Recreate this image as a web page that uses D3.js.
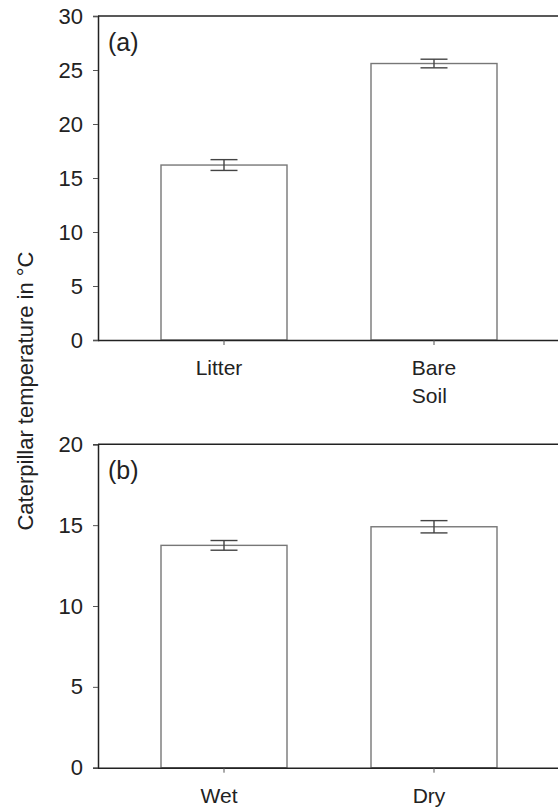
<!DOCTYPE html>
<html>
<head>
<meta charset="utf-8">
<script src="https://cdn.jsdelivr.net/npm/d3@7"></script>
<style>
  html, body { margin: 0; padding: 0; background: #fff; }
  svg { display: block; }
  text { font-family: "Liberation Sans", Arial, sans-serif; fill: #222; }
</style>
</head>
<body>
<svg id="chart" width="558" height="807"></svg>
<script>
// ---- data ----
const categoriesA = ["Litter", "Bare Soil"];
const labelsA = [["Litter"], ["Bare", "Soil"]];
const valuesA = [16.2, 25.6];
const errorsA = [0.5, 0.4];
const ticksA = [0, 5, 10, 15, 20, 25, 30];

const categoriesB = ["Wet", "Dry"];
const labelsB = [["Wet"], ["Dry"]];
const valuesB = [13.75, 14.9];
const errorsB = [0.3, 0.38];
const ticksB = [0, 5, 10, 15, 20];

const yLabel = "Caterpillar temperature in °C";

// ---- layout ----
const svg = d3.select("#chart");
const left = 98, right = 560;
const fontSize = 21;

function panel(cfg) {
  const g = svg.append("g");
  const x = d3.scaleBand().domain(cfg.cats).range([left, right])
    .paddingInner(0.4).paddingOuter(0.3);
  const y = d3.scaleLinear().domain([0, cfg.max]).range([cfg.bottom, cfg.top]);

  // bars
  g.selectAll("rect.bar").data(cfg.values).join("rect")
    .attr("class", "bar")
    .attr("x", (d, i) => x(cfg.cats[i]))
    .attr("width", x.bandwidth())
    .attr("y", d => y(d))
    .attr("height", d => y(0) - y(d))
    .attr("fill", "#fff")
    .attr("stroke", "#777")
    .attr("stroke-width", 1.4);

  // error bars
  const capW = 27;
  const eb = g.selectAll("g.eb").data(cfg.values).join("g").attr("class", "eb");
  eb.append("line")
    .attr("x1", (d, i) => x(cfg.cats[i]) + x.bandwidth() / 2)
    .attr("x2", (d, i) => x(cfg.cats[i]) + x.bandwidth() / 2)
    .attr("y1", (d, i) => y(d + cfg.errs[i]))
    .attr("y2", (d, i) => y(d - cfg.errs[i]));
  eb.append("line")
    .attr("x1", (d, i) => x(cfg.cats[i]) + x.bandwidth() / 2 - capW / 2)
    .attr("x2", (d, i) => x(cfg.cats[i]) + x.bandwidth() / 2 + capW / 2)
    .attr("y1", (d, i) => y(d + cfg.errs[i]))
    .attr("y2", (d, i) => y(d + cfg.errs[i]));
  eb.append("line")
    .attr("x1", (d, i) => x(cfg.cats[i]) + x.bandwidth() / 2 - capW / 2)
    .attr("x2", (d, i) => x(cfg.cats[i]) + x.bandwidth() / 2 + capW / 2)
    .attr("y1", (d, i) => y(d - cfg.errs[i]))
    .attr("y2", (d, i) => y(d - cfg.errs[i]));
  eb.selectAll("line").attr("stroke", "#444").attr("stroke-width", 1.4);

  // top frame line
  g.append("line")
    .attr("x1", left).attr("x2", right)
    .attr("y1", y(cfg.max)).attr("y2", y(cfg.max))
    .attr("stroke", "#222").attr("stroke-width", 1.5);

  // y axis
  const ya = g.append("g").attr("transform", `translate(${left},0)`)
    .call(d3.axisLeft(y).tickValues(cfg.ticks).tickSize(5).tickPadding(10).tickFormat(d3.format("d")));
  ya.select(".domain").attr("stroke", "#222").attr("stroke-width", 1.5);
  ya.selectAll(".tick line").attr("stroke", "#555").attr("stroke-width", 1);
  ya.selectAll(".tick text").attr("font-size", 22)
    .attr("font-family", "Liberation Sans, Arial, sans-serif").attr("fill", "#222");

  // x axis
  const xa = g.append("g").attr("transform", `translate(0,${cfg.bottom})`)
    .call(d3.axisBottom(x).tickSize(5).tickFormat(""));
  xa.select(".domain").attr("stroke", "#222").attr("stroke-width", 1.5)
    .attr("d", `M${left},0.5H${right}`);
  xa.selectAll(".tick line").attr("stroke", "#555").attr("stroke-width", 1);

  // x labels
  cfg.labels.forEach((lines, i) => {
    const cx = x(cfg.cats[i]) + x.bandwidth() / 2;
    const t = g.append("text")
      .attr("font-size", fontSize)
      .attr("y", cfg.bottom + 35);
    if (lines.length === 1) {
      t.attr("x", cx - 5).attr("text-anchor", "middle").text(lines[0]);
    } else {
      t.attr("text-anchor", "start");
      lines.forEach((ln, k) => {
        t.append("tspan").attr("x", 0).attr("dy", k === 0 ? 0 : 28).text(ln);
      });
      const w = d3.max(t.selectAll("tspan").nodes(), n => n.getComputedTextLength());
      t.selectAll("tspan").attr("x", cx - w / 2);
    }
  });

  // panel label
  g.append("text")
    .attr("x", left + 10)
    .attr("y", cfg.top + 35)
    .attr("font-size", 25)
    .text(cfg.tag);
}

panel({ cats: categoriesA, labels: labelsA, values: valuesA, errs: errorsA,
        ticks: ticksA, max: 30, top: 16, bottom: 340, tag: "(a)" });
panel({ cats: categoriesB, labels: labelsB, values: valuesB, errs: errorsB,
        ticks: ticksB, max: 20, top: 444.3, bottom: 767.7, tag: "(b)" });

// y label
svg.append("text")
  .attr("transform", "translate(33,391) rotate(-90)")
  .attr("text-anchor", "middle")
  .attr("font-size", 22)
  .text(yLabel);
</script>
</body>
</html>
